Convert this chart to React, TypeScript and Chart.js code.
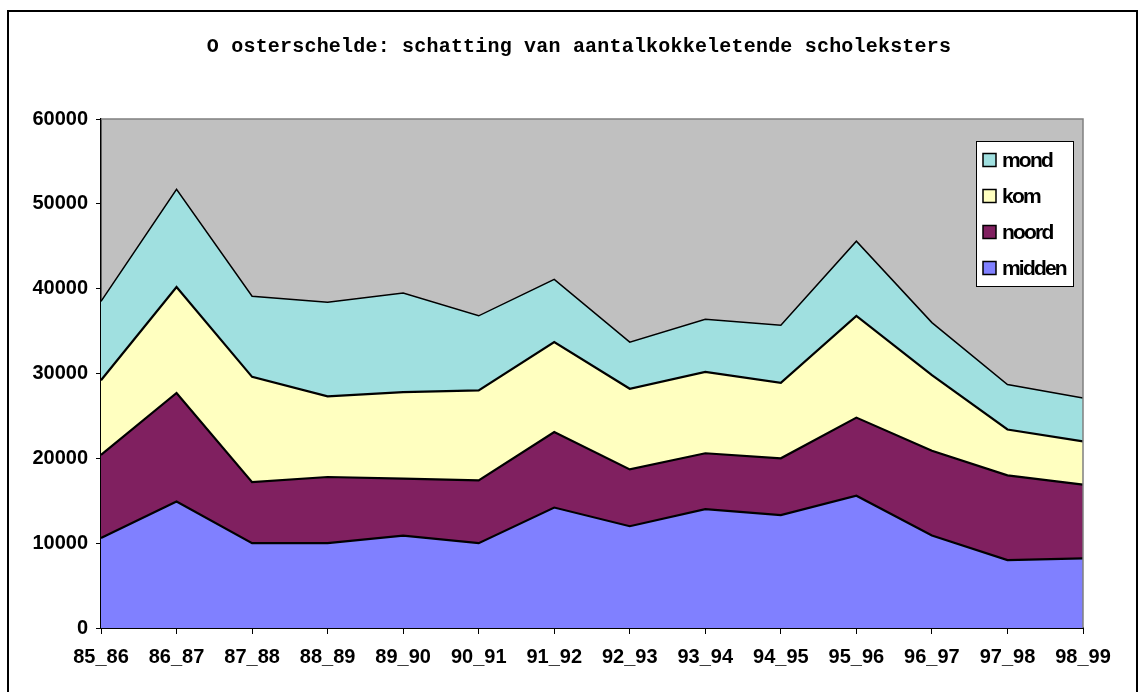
import React, { useEffect, useRef } from "react";
import { Chart, registerables } from "chart.js";

Chart.register(...registerables);

const categories = ["85_86", "86_87", "87_88", "88_89", "89_90", "90_91", "91_92", "92_93", "93_94", "94_95", "95_96", "96_97", "97_98", "98_99"];
const midden = [10600, 14900, 10000, 10000, 10900, 10000, 14200, 12000, 14000, 13300, 15600, 10900, 8000, 8200];
const noord = [9800, 12800, 7200, 7800, 6700, 7400, 8900, 6700, 6600, 6700, 9200, 10000, 10000, 8700];
const kom = [8800, 12500, 12400, 9500, 10200, 10600, 10600, 9500, 9600, 8900, 12000, 8900, 5400, 5100];
const mond = [9300, 11500, 9500, 11100, 11700, 8800, 7400, 5500, 6200, 6800, 8800, 6200, 5300, 5100];
const seriesNames = ["midden", "noord", "kom", "mond"];
const seriesColors = ["#8080FF", "#802060", "#FFFFC0", "#A0E0E0"];
const titleText = "O osterschelde: schatting van aantalkokkeletende scholeksters";
const yTicks = [0, 10000, 20000, 30000, 40000, 50000, 60000];

const FONT = "'Liberation Sans', Arial, sans-serif";

const decorPlugin = {
  id: "decor",
  beforeDraw(chart: any) {
    const { ctx, chartArea } = chart;
    ctx.save();
    ctx.fillStyle = "#FFFFFF";
    ctx.fillRect(0, 0, chart.width, chart.height);
    ctx.fillStyle = "#C0C0C0";
    ctx.fillRect(chartArea.left, chartArea.top, chartArea.right - chartArea.left, chartArea.bottom - chartArea.top);
    // outer frame
    ctx.strokeStyle = "#000000";
    ctx.lineWidth = 2;
    ctx.strokeRect(8, 11, 1129, 700);
    // title
    ctx.fillStyle = "#000000";
    ctx.font = "bold 20px 'Liberation Mono', 'DejaVu Sans Mono', monospace";
    (ctx as any).letterSpacing = "0.2px";
    ctx.textAlign = "center";
    ctx.textBaseline = "middle";
    ctx.fillText(titleText, 579, 47);
    (ctx as any).letterSpacing = "0px";
    ctx.restore();
  },
  afterDatasetsDraw(chart: any) {
    const { ctx, chartArea } = chart;
    ctx.save();
    ctx.strokeStyle = "#808080";
    ctx.lineWidth = 1.5;
    ctx.beginPath();
    ctx.moveTo(chartArea.left, chartArea.top);
    ctx.lineTo(chartArea.right, chartArea.top);
    ctx.lineTo(chartArea.right, chartArea.bottom);
    ctx.stroke();
    // legend
    const bx = 976, by = 141, bw = 97, bh = 145;
    ctx.fillStyle = "#FFFFFF";
    ctx.fillRect(bx, by, bw, bh);
    ctx.strokeStyle = "#000000";
    ctx.lineWidth = 1;
    ctx.strokeRect(bx + 0.5, by + 0.5, bw, bh);
    const ds = chart.data.datasets;
    const order = [3, 2, 1, 0];
    order.forEach((di, i) => {
      const cy = 160 + i * 36;
      ctx.fillStyle = ds[di].backgroundColor;
      ctx.fillRect(983, cy - 6.5, 13, 13);
      ctx.strokeStyle = "#000000";
      ctx.lineWidth = 1.5;
      ctx.strokeRect(983, cy - 6.5, 13, 13);
      ctx.fillStyle = "#000000";
      ctx.font = "bold 21px " + FONT;
      (ctx as any).letterSpacing = "-1.8px";
      ctx.textAlign = "left";
      ctx.textBaseline = "middle";
      ctx.fillText(ds[di].label, 1002, cy + 1);
      (ctx as any).letterSpacing = "0px";
    });
    ctx.restore();
  },
};

export default function App() {
  const ref = useRef<HTMLCanvasElement | null>(null);
  useEffect(() => {
    if (!ref.current) return;
    const dataSeries = [midden, noord, kom, mond];
    const chart = new Chart(ref.current, {
      type: "line",
      data: {
        labels: categories,
        datasets: dataSeries.map((d, i) => ({
          label: seriesNames[i],
          data: d,
          backgroundColor: seriesColors[i],
          borderColor: "#000000",
          borderWidth: i === 3 ? 1.5 : 2.2,
          pointRadius: 0,
          tension: 0,
          fill: i === 0 ? "origin" : "-1",
        })),
      },
      options: {
        animation: false,
        responsive: false,
        layout: { padding: { left: 0, right: 64, top: 119, bottom: 0 } },
        plugins: {
          legend: { display: false },
          title: { display: false },
          tooltip: { enabled: false },
        },
        scales: {
          x: {
            offset: false,
            grid: { display: true, drawOnChartArea: false, drawTicks: true, tickLength: 6, color: "#000000" },
            border: { display: true, color: "#000000", width: 2 },
            ticks: {
              color: "#000000",
              font: { family: FONT, size: 20, weight: "bold" },
              padding: 11,
              maxRotation: 0,
              autoSkip: false,
            },
            afterFit(scale: any) {
              scale.height = 64;
            },
          },
          y: {
            stacked: true,
            min: 0,
            max: 60000,
            afterBuildTicks(scale: any) {
              scale.ticks = yTicks.map((v) => ({ value: v }));
            },
            grid: { display: true, drawOnChartArea: false, drawTicks: true, tickLength: 5, color: "#000000" },
            border: { display: true, color: "#000000", width: 1.5 },
            ticks: {
              color: "#000000",
              font: { family: FONT, size: 20, weight: "bold" },
              padding: 8,
              callback: (v: any) => String(v),
            },
            afterFit(scale: any) {
              scale.width = 101;
            },
          },
        },
      },
      plugins: [decorPlugin],
    });
    return () => chart.destroy();
  }, []);
  return (
    <div style={{ position: "absolute", left: 0, top: 0, width: 1147, height: 692 }}>
      <canvas ref={ref} width={1147} height={692} style={{ width: 1147, height: 692 }} />
    </div>
  );
}
